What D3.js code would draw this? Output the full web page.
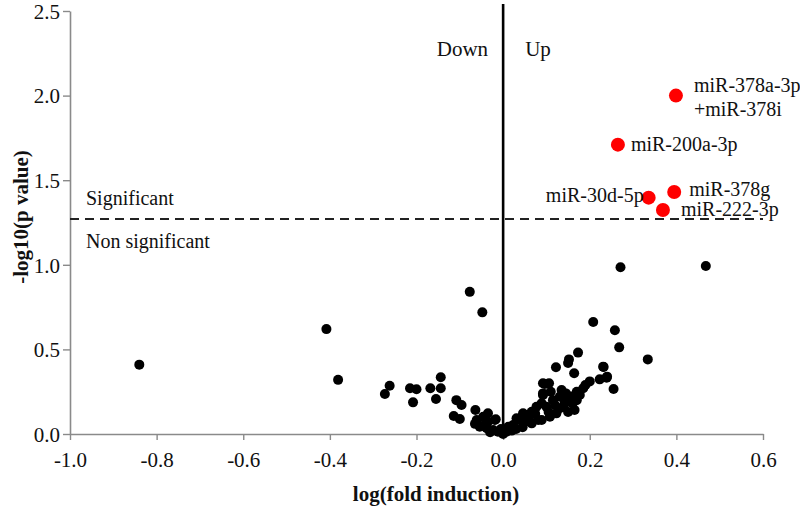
<!DOCTYPE html>
<html><head><meta charset="utf-8">
<script src="https://cdn.jsdelivr.net/npm/d3@7"></script>
<style>body{margin:0;background:#fff}svg{display:block}text{font-family:"Liberation Serif","Times New Roman",serif;}</style>
</head><body>
<svg id="c" width="800" height="517"></svg>
<script>
const xTicks = [-1.0,-0.8,-0.6,-0.4,-0.2,0.0,0.2,0.4,0.6];
const yTicks = [0.0,0.5,1.0,1.5,2.0,2.5];
const threshold = 1.27;
const blackX = [-0.84,-0.408,-0.381,-0.273,-0.262,-0.215,-0.2,-0.208,-0.168,-0.144,-0.144,-0.155,-0.108,-0.096,-0.114,-0.1,-0.077,-0.048,-0.064,-0.061,-0.046,-0.035,-0.019,-0.054,-0.038,-0.023,-0.012,0.0,-0.035,-0.017,-0.065,-0.045,-0.03,-0.005,
 0.008,0.012,0.023,0.031,0.038,0.046,0.054,0.066,0.077,0.089,0.092,0.096,0.081,0.066,0.05,0.02,0.03,0.06,0.074,0.045,
 0.092,0.106,0.092,0.131,0.158,0.115,0.142,0.165,0.131,0.1,0.108,0.089,0.123,0.14,0.15,0.12,0.105,0.135,0.16,0.11,0.145,0.17,
 0.122,0.15,0.152,0.173,0.164,0.177,0.2,0.223,0.239,0.231,0.255,0.208,0.258,0.268,0.334,0.271,0.468,0.24,0.232,0.185,0.17,0.19];
const blackY = [0.41,0.62,0.32,0.236,0.285,0.27,0.264,0.187,0.27,0.335,0.27,0.207,0.2,0.171,0.106,0.089,0.84,0.719,0.142,0.083,0.102,0.073,0.083,0.043,0.034,0.024,0.014,0.0,0.122,0.087,0.06,0.05,0.01,0.03,
 0.014,0.043,0.053,0.093,0.083,0.122,0.112,0.132,0.161,0.181,0.23,0.296,0.083,0.063,0.07,0.02,0.03,0.1,0.12,0.04,
 0.3,0.3,0.24,0.221,0.221,0.2,0.191,0.142,0.152,0.161,0.102,0.083,0.122,0.16,0.13,0.17,0.13,0.26,0.18,0.25,0.24,0.2,
 0.394,0.42,0.441,0.481,0.359,0.23,0.311,0.323,0.333,0.398,0.266,0.662,0.613,0.512,0.441,0.985,0.993,0.339,0.396,0.27,0.25,0.29];
const sigNames = ["miR-378a-3p","miR-200a-3p","miR-30d-5p","miR-378g","miR-222-3p"];
const sigX = [0.399,0.265,0.336,0.395,0.369];
const sigY = [2.0,1.71,1.397,1.43,1.324];

const FONT = "'Liberation Serif','Times New Roman',serif";
const svg = d3.select("#c");
const x = d3.scaleLinear().domain([-1,0.6]).range([70,763]);
const y = d3.scaleLinear().domain([0,2.5]).range([434,11]);
const fmt = v => d3.format(".1f")(v).replace("\u2212","-");
const axisColor = "#8a8a8a";

// axes
const gx = svg.append("g").attr("transform",`translate(0,${y(0)})`)
  .call(d3.axisBottom(x).tickValues(xTicks).tickFormat(fmt).tickSizeOuter(0).tickSizeInner(6).tickPadding(12));
const gy = svg.append("g").attr("transform",`translate(${x(-1)},0)`)
  .call(d3.axisLeft(y).tickValues(yTicks).tickFormat(fmt).tickSizeOuter(0).tickSizeInner(7).tickPadding(3));
[gx,gy].forEach(g=>{
  g.attr("font-family",FONT).attr("font-size",21);
  g.select(".domain").attr("stroke",axisColor).attr("stroke-width",1.6);
  g.selectAll(".tick line").attr("stroke",axisColor).attr("stroke-width",1.4);
  g.selectAll(".tick text").attr("fill","#111");
});
gy.selectAll(".tick text").attr("dy","0.35em");

// threshold dashed line
svg.append("line").attr("x1",x(-1)).attr("x2",x(0.6)).attr("y1",y(threshold)).attr("y2",y(threshold))
  .attr("stroke","#222").attr("stroke-width",2).attr("stroke-dasharray","9,6");
// vertical zero line
svg.append("line").attr("x1",x(0)).attr("x2",x(0)).attr("y1",y(0)).attr("y2",y(2.5)-7)
  .attr("stroke","#000").attr("stroke-width",2.6);

// black points
const pts = blackX.map((v,i)=>({x:v,y:blackY[i]}));
svg.append("g").selectAll("circle").data(pts).join("circle")
  .attr("cx",d=>x(d.x)).attr("cy",d=>y(d.y)).attr("r",5).attr("fill","#000");

// red points
const sig = sigNames.map((n,i)=>({n,x:sigX[i],y:sigY[i]}));
svg.append("g").selectAll("circle").data(sig).join("circle")
  .attr("cx",d=>x(d.x)).attr("cy",d=>y(d.y)).attr("r",7).attr("fill","#ff0000");

const t = (s,xx,yy,anchor,size)=>svg.append("text").attr("x",xx).attr("y",yy).attr("text-anchor",anchor||"start")
    .attr("font-family",FONT).attr("font-size",size||20).attr("fill","#111").text(s);
// red labels
t("miR-378a-3p", x(sigX[0])+18, y(sigY[0])-4);
t("+miR-378i", x(sigX[0])+18, y(sigY[0])+20);
t("miR-200a-3p", x(sigX[1])+13, y(sigY[1])+6);
t("miR-30d-5p", x(sigX[2])-5, y(sigY[2])+4, "end");
t("miR-378g", x(sigX[3])+15, y(sigY[3])+4);
t("miR-222-3p", x(sigX[4])+18, y(sigY[4])+6);

// region labels
t("Significant", 86, y(threshold)-14);
t("Non significant", 86, y(threshold)+29);
t("Down", x(0)-15, 56, "end", 21);
t("Up", x(0)+22, 56, "start", 21);

// axis titles
svg.append("text").attr("x",436).attr("y",501).attr("text-anchor","middle").attr("font-family",FONT)
  .attr("font-size",21).attr("font-weight","bold").attr("fill","#111").text("log(fold induction)");
svg.append("text").attr("transform","translate(28,217) rotate(-90)").attr("text-anchor","middle").attr("font-family",FONT)
  .attr("font-size",21).attr("font-weight","bold").attr("fill","#111").text("-log10(p value)");
</script>
</body></html>
